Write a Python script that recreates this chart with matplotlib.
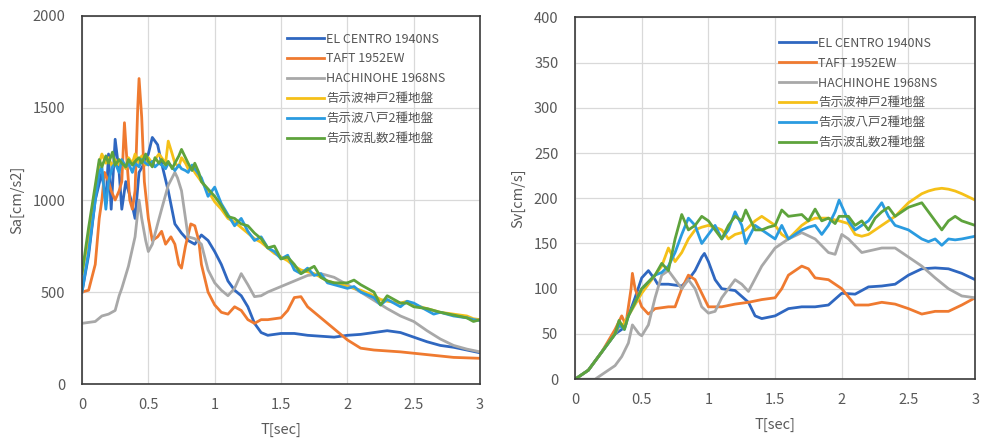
import matplotlib
matplotlib.use("Agg")
import matplotlib.pyplot as plt
from matplotlib.ticker import MultipleLocator, FuncFormatter

plt.rcParams['font.family'] = ['Noto Sans CJK JP', 'DejaVu Sans']

names = ["EL CENTRO 1940NS", "TAFT 1952EW", "HACHINOHE 1968NS",
         "告示波神戸2種地盤", "告示波八戸2種地盤", "告示波乱数2種地盤"]
colors = ["#2f67c0", "#ef7a30", "#a8a8a8", "#f5c018", "#2a9be0", "#5ea33c"]

# ---- Sa spectra (cm/s2) ----
sa_elc_t = [0, 0.05, 0.1, 0.15, 0.18, 0.2, 0.22, 0.25, 0.28, 0.3, 0.33, 0.37, 0.4, 0.43, 0.47, 0.5,
            0.53, 0.57, 0.6, 0.65, 0.7, 0.75, 0.8, 0.85, 0.9, 0.95, 1.0, 1.05, 1.1, 1.15, 1.2, 1.25,
            1.3, 1.35, 1.4, 1.5, 1.6, 1.7, 1.8, 1.9, 2.0, 2.1, 2.2, 2.3, 2.4, 2.5, 2.6, 2.7, 2.8, 2.9, 3.0]
sa_elc = [500, 700, 1000, 1150, 980, 1250, 950, 1330, 1150, 950, 1100, 1000, 900, 1150, 1200, 1250,
          1340, 1300, 1200, 1050, 870, 820, 780, 760, 810, 780, 720, 650, 560, 510, 480, 420,
          330, 280, 265, 275, 275, 265, 260, 255, 265, 270, 280, 290, 280, 255, 230, 210, 200, 185, 170]

sa_taft_t = [0, 0.05, 0.1, 0.13, 0.15, 0.17, 0.2, 0.22, 0.25, 0.28, 0.3, 0.32, 0.34, 0.36, 0.38, 0.4,
             0.42, 0.43, 0.45, 0.47, 0.5, 0.53, 0.57, 0.6, 0.63, 0.67, 0.7, 0.73, 0.75, 0.78, 0.82,
             0.85, 0.88, 0.9, 0.95, 1.0, 1.05, 1.1, 1.15, 1.2, 1.25, 1.3, 1.35, 1.4, 1.5, 1.55, 1.6,
             1.65, 1.7, 1.8, 1.9, 2.0, 2.1, 2.2, 2.4, 2.6, 2.8, 3.0]
sa_taft = [500, 510, 650, 900, 1000, 1150, 1100, 1050, 1000, 1050, 1100, 1420, 1200, 1000, 950, 1050,
           1500, 1660, 1450, 1100, 900, 780, 800, 830, 760, 800, 760, 650, 630, 750, 870,
           860, 780, 650, 500, 430, 390, 380, 420, 400, 350, 330, 350, 350, 360, 400, 470,
           475, 420, 360, 300, 240, 195, 185, 175, 160, 145, 140]

sa_hachi_t = [0, 0.1, 0.15, 0.2, 0.25, 0.28, 0.3, 0.35, 0.4, 0.43, 0.45, 0.48, 0.5, 0.53, 0.57, 0.6,
              0.65, 0.7, 0.72, 0.75, 0.78, 0.8, 0.85, 0.9, 0.95, 1.0, 1.05, 1.1, 1.15, 1.2, 1.25,
              1.3, 1.35, 1.4, 1.5, 1.6, 1.7, 1.8, 1.9, 2.0, 2.1, 2.2, 2.3, 2.4, 2.5, 2.6, 2.7, 2.8, 2.9, 3.0]
sa_hachi = [330, 340, 370, 380, 400, 480, 520, 640, 800, 1000, 900, 780, 720, 760, 870, 950,
            1080, 1150, 1120, 1050, 900, 800, 790, 760, 620, 550, 510, 480, 520, 600, 540,
            475, 480, 500, 530, 560, 590, 600, 580, 540, 500, 455, 410, 370, 340, 290, 245, 210, 190, 175]

sa_code_t = [0, 0.05, 0.1, 0.13, 0.15, 0.18, 0.2, 0.23, 0.25, 0.28, 0.3, 0.33, 0.35, 0.38, 0.4, 0.43,
             0.45, 0.48, 0.5, 0.53, 0.55, 0.58, 0.6, 0.63, 0.65, 0.68, 0.7, 0.73, 0.75, 0.78, 0.8,
             0.83, 0.85, 0.88, 0.9, 0.95, 1.0, 1.05, 1.1, 1.15, 1.2, 1.25, 1.3, 1.35, 1.4, 1.45,
             1.5, 1.55, 1.6, 1.65, 1.7, 1.75, 1.8, 1.85, 1.9, 2.0, 2.05, 2.1, 2.2, 2.25, 2.3, 2.4,
             2.45, 2.5, 2.6, 2.65, 2.7, 2.8, 2.9, 2.95, 3.0]
sa_kobe = [600, 800, 1050, 1200, 1250, 1200, 1230, 1180, 1220, 1190, 1210, 1170, 1230, 1200, 1250, 1200,
           1240, 1190, 1230, 1200, 1220, 1250, 1230, 1200, 1320, 1250, 1200, 1180, 1230, 1200, 1170,
           1180, 1150, 1120, 1100, 1050, 990, 950, 900, 880, 850, 820, 790, 770, 740, 710,
           690, 670, 640, 620, 610, 600, 580, 560, 550, 530, 520, 510, 480, 460, 450, 440,
           450, 430, 410, 400, 390, 380, 370, 355, 350]
sa_hachi_code = [500, 720, 1000, 1150, 1180, 950, 1100, 1180, 1200, 1150, 1220, 1180, 1200, 1150, 1200, 1180,
                 1220, 1200, 1190, 1210, 1180, 1200, 1190, 1170, 1200, 1180, 1160, 1190, 1170, 1160, 1150,
                 1190, 1170, 1140, 1120, 1020, 1070, 980, 920, 860, 900, 830, 780, 800, 740, 720,
                 680, 700, 620, 600, 630, 590, 600, 550, 540, 520, 530, 500, 470, 430, 460, 420,
                 450, 440, 400, 380, 390, 370, 360, 350, 345]
sa_random = [600, 850, 1080, 1220, 1180, 1240, 1200, 1260, 1190, 1220, 1200, 1180, 1220, 1190, 1210, 1230,
             1200, 1250, 1210, 1180, 1230, 1200, 1220, 1190, 1210, 1170, 1200, 1240, 1275, 1230, 1200,
             1160, 1200, 1150, 1100, 1060, 1020, 970, 910, 900, 870, 860, 820, 790, 740, 750,
             680, 690, 650, 600, 620, 640, 580, 560, 550, 550, 565, 540, 500, 430, 480, 440,
             440, 420, 410, 400, 390, 375, 360, 340, 350]

# ---- Sv spectra (cm/s) ----
sv_elc_t = [0, 0.1, 0.2, 0.3, 0.35, 0.4, 0.45, 0.5, 0.55, 0.6, 0.62, 0.7, 0.8, 0.85, 0.9, 0.95, 0.97,
            1.0, 1.05, 1.1, 1.2, 1.3, 1.35, 1.4, 1.5, 1.6, 1.7, 1.8, 1.9, 2.0, 2.1, 2.2, 2.3, 2.4,
            2.5, 2.6, 2.7, 2.8, 2.9, 3.0]
sv_elc = [0, 10, 30, 50, 55, 70, 90, 112, 120, 110, 105, 105, 103, 110, 120, 135, 139,
          130, 110, 100, 98, 85, 70, 67, 70, 78, 80, 80, 82, 95, 94, 102, 103, 105,
          115, 122, 123, 122, 117, 110]

sv_taft_t = [0, 0.1, 0.2, 0.3, 0.35, 0.38, 0.42, 0.43, 0.45, 0.5, 0.55, 0.6, 0.7, 0.75, 0.8, 0.85,
             0.9, 0.95, 1.0, 1.1, 1.2, 1.3, 1.4, 1.5, 1.55, 1.6, 1.7, 1.75, 1.8, 1.9, 2.0, 2.1,
             2.2, 2.3, 2.4, 2.5, 2.6, 2.7, 2.8, 2.9, 3.0]
sv_taft = [0, 10, 30, 55, 70, 60, 100, 117, 100, 80, 72, 78, 80, 80, 100, 115,
           110, 95, 80, 80, 83, 85, 88, 90, 100, 115, 125, 122, 112, 110, 100, 82,
           82, 85, 83, 78, 72, 75, 75, 82, 90]

sv_hachi_t = [0, 0.15, 0.2, 0.3, 0.35, 0.4, 0.43, 0.48, 0.5, 0.55, 0.6, 0.65, 0.7, 0.75, 0.8, 0.85,
              0.9, 0.95, 1.0, 1.05, 1.1, 1.2, 1.25, 1.3, 1.4, 1.5, 1.6, 1.7, 1.8, 1.9, 1.95, 2.0,
              2.05, 2.15, 2.3, 2.4, 2.5, 2.6, 2.7, 2.8, 2.9, 3.0]
sv_hachi = [0, 0, 5, 15, 25, 40, 60, 50, 48, 60, 90, 115, 120, 110, 100, 110,
            100, 80, 73, 75, 90, 110, 105, 97, 125, 145, 155, 162, 155, 140, 138, 160,
            155, 140, 145, 145, 135, 125, 112, 100, 92, 90]

sv_code_t = [0, 0.1, 0.2, 0.3, 0.33, 0.37, 0.4, 0.5, 0.6, 0.65, 0.7, 0.75, 0.8, 0.85, 0.9, 0.95,
             1.0, 1.05, 1.1, 1.15, 1.2, 1.25, 1.28, 1.35, 1.4, 1.45, 1.5, 1.55, 1.6, 1.7, 1.75, 1.8,
             1.85, 1.9, 1.95, 1.98, 2.05, 2.1, 2.15, 2.2, 2.25, 2.3, 2.35, 2.4, 2.5, 2.6, 2.65, 2.7,
             2.75, 2.8, 2.85, 2.9, 3.0]
sv_kobe = [0, 10, 30, 50, 58, 62, 70, 95, 115, 125, 145, 130, 140, 155, 165, 168,
           170, 168, 165, 155, 160, 162, 165, 175, 180, 175, 170, 160, 155, 170, 175, 178,
           178, 178, 176, 175, 172, 160, 158, 160, 165, 170, 175, 180, 195, 205, 208, 210,
           211, 210, 208, 205, 198]
sv_hachi_code = [0, 10, 30, 50, 60, 55, 70, 100, 115, 118, 125, 140, 160, 178, 170, 150,
                 160, 170, 155, 165, 185, 170, 150, 170, 165, 160, 155, 170, 155, 165, 168, 170,
                 160, 170, 185, 198, 175, 165, 170, 175, 185, 195, 180, 170, 165, 155, 152, 155,
                 148, 155, 154, 155, 158]
sv_random = [0, 10, 30, 50, 65, 55, 70, 100, 115, 128, 120, 155, 182, 165, 170, 180,
             175, 165, 155, 170, 180, 175, 187, 165, 165, 168, 170, 187, 180, 182, 175, 188,
             175, 178, 172, 180, 180, 170, 175, 165, 178, 185, 190, 180, 190, 195, 185, 175,
             165, 175, 180, 175, 170]

sa_series = [(sa_elc_t, sa_elc), (sa_taft_t, sa_taft), (sa_hachi_t, sa_hachi),
             (sa_code_t, sa_kobe), (sa_code_t, sa_hachi_code), (sa_code_t, sa_random)]
sv_series = [(sv_elc_t, sv_elc), (sv_taft_t, sv_taft), (sv_hachi_t, sv_hachi),
             (sv_code_t, sv_kobe), (sv_code_t, sv_hachi_code), (sv_code_t, sv_random)]

fig = plt.figure(figsize=(9.83, 4.43), dpi=100)
ax1 = fig.add_axes([0.0834, 0.133, 0.405, 0.831])
ax2 = fig.add_axes([0.585, 0.144, 0.407, 0.817])


def fmt(v, pos):
    return f"{v:g}"


def style(ax, ymax, ystep, ylabel):
    ax.set_xlim(0, 3)
    ax.set_ylim(0, ymax)
    ax.xaxis.set_major_locator(MultipleLocator(0.5))
    ax.yaxis.set_major_locator(MultipleLocator(ystep))
    ax.xaxis.set_major_formatter(FuncFormatter(fmt))
    ax.grid(True, color="#d9d9d9", linewidth=0.9)
    ax.set_axisbelow(True)
    ax.tick_params(length=0, labelsize=10.5, labelcolor="#595959")
    ax.tick_params(axis="y", pad=12)
    ax.tick_params(axis="x", pad=10)
    for s in ax.spines.values():
        s.set_color("#3a3a3a")
        s.set_linewidth(1.2)
    ax.set_xlabel("T[sec]", fontsize=10.5, color="#595959", labelpad=8)
    ax.set_ylabel(ylabel, fontsize=10.5, color="#595959", labelpad=6)


legend_pos = [(0.515, 0.955), (0.51, 0.946)]
for ax, series, pos in [(ax1, sa_series, legend_pos[0]), (ax2, sv_series, legend_pos[1])]:
    for (t, v), name, c in zip(series, names, colors):
        ax.plot(t, v, color=c, linewidth=2, label=name)
    ax.legend(loc="upper left", bbox_to_anchor=pos, frameon=False, fontsize=9,
              handlelength=2.95, handletextpad=0.15, labelspacing=0.55, borderpad=0,
              borderaxespad=0, labelcolor="#555555")

style(ax1, 2000, 500, "Sa[cm/s2]")
style(ax2, 400, 50, "Sv[cm/s]")

fig.savefig("out.png", dpi=100)
